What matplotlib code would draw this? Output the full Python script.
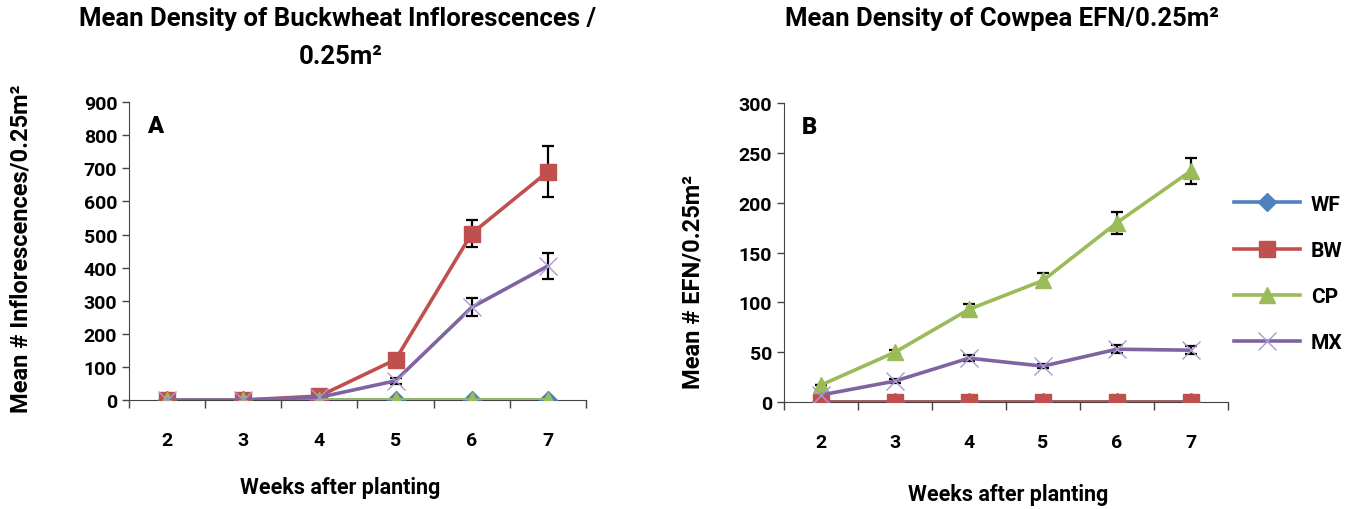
import matplotlib.pyplot as plt
import numpy as np

plt.rcParams['font.family'] = ['Roboto', 'DejaVu Sans']
plt.rcParams['font.weight'] = 'bold'

weeks = [2, 3, 4, 5, 6, 7]
treatments = ["WF", "BW", "CP", "MX"]

# panel A: buckwheat inflorescences
a_wf = [0, 0, 0, 0, 0, 0]
a_bw = [0, 0, 12, 122, 503, 690]
a_cp = [0, 0, 0, 0, 0, 0]
a_mx = [0, 0, 8, 58, 280, 405]
a_bw_err = [0, 0, 0, 0, 42, 77]
a_mx_err = [0, 0, 0, 10, 27, 40]

# panel B: cowpea EFN
b_wf = [0, 0, 0, 0, 0, 0]
b_bw = [0, 0, 0, 0, 0, 0]
b_cp = [17, 50, 93, 122, 180, 232]
b_mx = [7, 21, 44, 36, 53, 52]
b_cp_err = [0, 2, 5, 7, 11, 13]
b_mx_err = [0, 2, 3, 2, 4, 4]

colors = {"WF": "#4F81BD", "BW": "#C0504D", "CP": "#9BBB59", "MX": "#8064A2"}
markers = {"WF": "D", "BW": "s", "CP": "^", "MX": "x"}
msizes = {"WF": 9, "BW": 12, "CP": 12, "MX": 13}


def draw(ax, series, errs, ymax, ystep, letter):
    x = np.arange(len(weeks))
    for name, vals in zip(treatments, series):
        mk = markers[name]
        ax.plot(x, vals, color=colors[name], lw=2.6, marker=mk,
                markersize=msizes[name],
                markeredgecolor=colors[name] if mk != "x" else "#A99BD0",
                markeredgewidth=1.0, label=name, zorder=3)
        if name in errs:
            ax.errorbar(x, vals, yerr=errs[name], fmt="none", ecolor="black",
                        elinewidth=1.6, capsize=4, capthick=1.6, zorder=2)
    ax.set_xlim(-0.5, len(weeks) - 0.5)
    ax.set_ylim(0, ymax)
    ax.set_yticks(np.arange(0, ymax + 1, ystep))
    ax.set_xticks(x)
    ax.set_xticklabels([str(w) for w in weeks])
    ax.set_xticks(np.arange(-0.5, len(weeks)), minor=True)
    ax.tick_params(axis="x", which="major", length=0, pad=22, labelsize=14)
    ax.tick_params(axis="x", which="minor", length=6, width=1, color="#444444")
    ax.tick_params(axis="y", length=5, width=1, color="#444444", labelsize=14)
    for s in ["top", "right"]:
        ax.spines[s].set_visible(False)
    for s in ["left", "bottom"]:
        ax.spines[s].set_color("#444444")
    ax.text(0.04, 0.96, letter, transform=ax.transAxes, fontsize=17,
            fontweight="black", va="top", ha="left")
    for lab in ax.get_xticklabels() + ax.get_yticklabels():
        lab.set_fontweight("bold")


fig = plt.figure(figsize=(13.62, 5.10), dpi=100)
ax1 = fig.add_axes([0.0947, 0.2137, 0.3355, 0.584])
ax2 = fig.add_axes([0.5756, 0.2098, 0.326, 0.586])

draw(ax1, [a_wf, a_bw, a_cp, a_mx], {"BW": a_bw_err, "MX": a_mx_err}, 900, 100, "A")
draw(ax2, [b_wf, b_bw, b_cp, b_mx], {"CP": b_cp_err, "MX": b_mx_err}, 300, 50, "B")

ax1.set_xlabel("Weeks after planting", fontsize=15.5, fontweight="bold")
ax1.xaxis.set_label_coords(0.462, -0.255)
ax1.set_ylabel("Mean # Inflorescences/0.25m²", fontsize=17, fontweight="bold")
ax1.yaxis.set_label_coords(-0.212, 0.51)
ax2.set_xlabel("Weeks after planting", fontsize=15.5, fontweight="bold")
ax2.xaxis.set_label_coords(0.505, -0.271)
ax2.set_ylabel("Mean # EFN/0.25m²", fontsize=17, fontweight="bold")
ax2.yaxis.set_label_coords(-0.178, 0.405)

fig.text(0.248, 0.962, "Mean Density of Buckwheat Inflorescences /", ha="center",
         va="center", fontsize=18.5, fontweight="bold")
fig.text(0.25, 0.888, "0.25m²", ha="center", va="center",
         fontsize=18.5, fontweight="bold")
fig.text(0.736, 0.962, "Mean Density of Cowpea EFN/0.25m²", ha="center",
         va="center", fontsize=18.5, fontweight="bold")

handles, labels = ax2.get_legend_handles_labels()
fig.legend(handles[:4], labels[:4], loc="center left",
           bbox_to_anchor=(0.892, 0.462), frameon=False,
           labelspacing=1.3, handlelength=3.2, handletextpad=0.5,
           prop={"weight": "bold", "size": 15})

fig.savefig("out.png", dpi=100)
